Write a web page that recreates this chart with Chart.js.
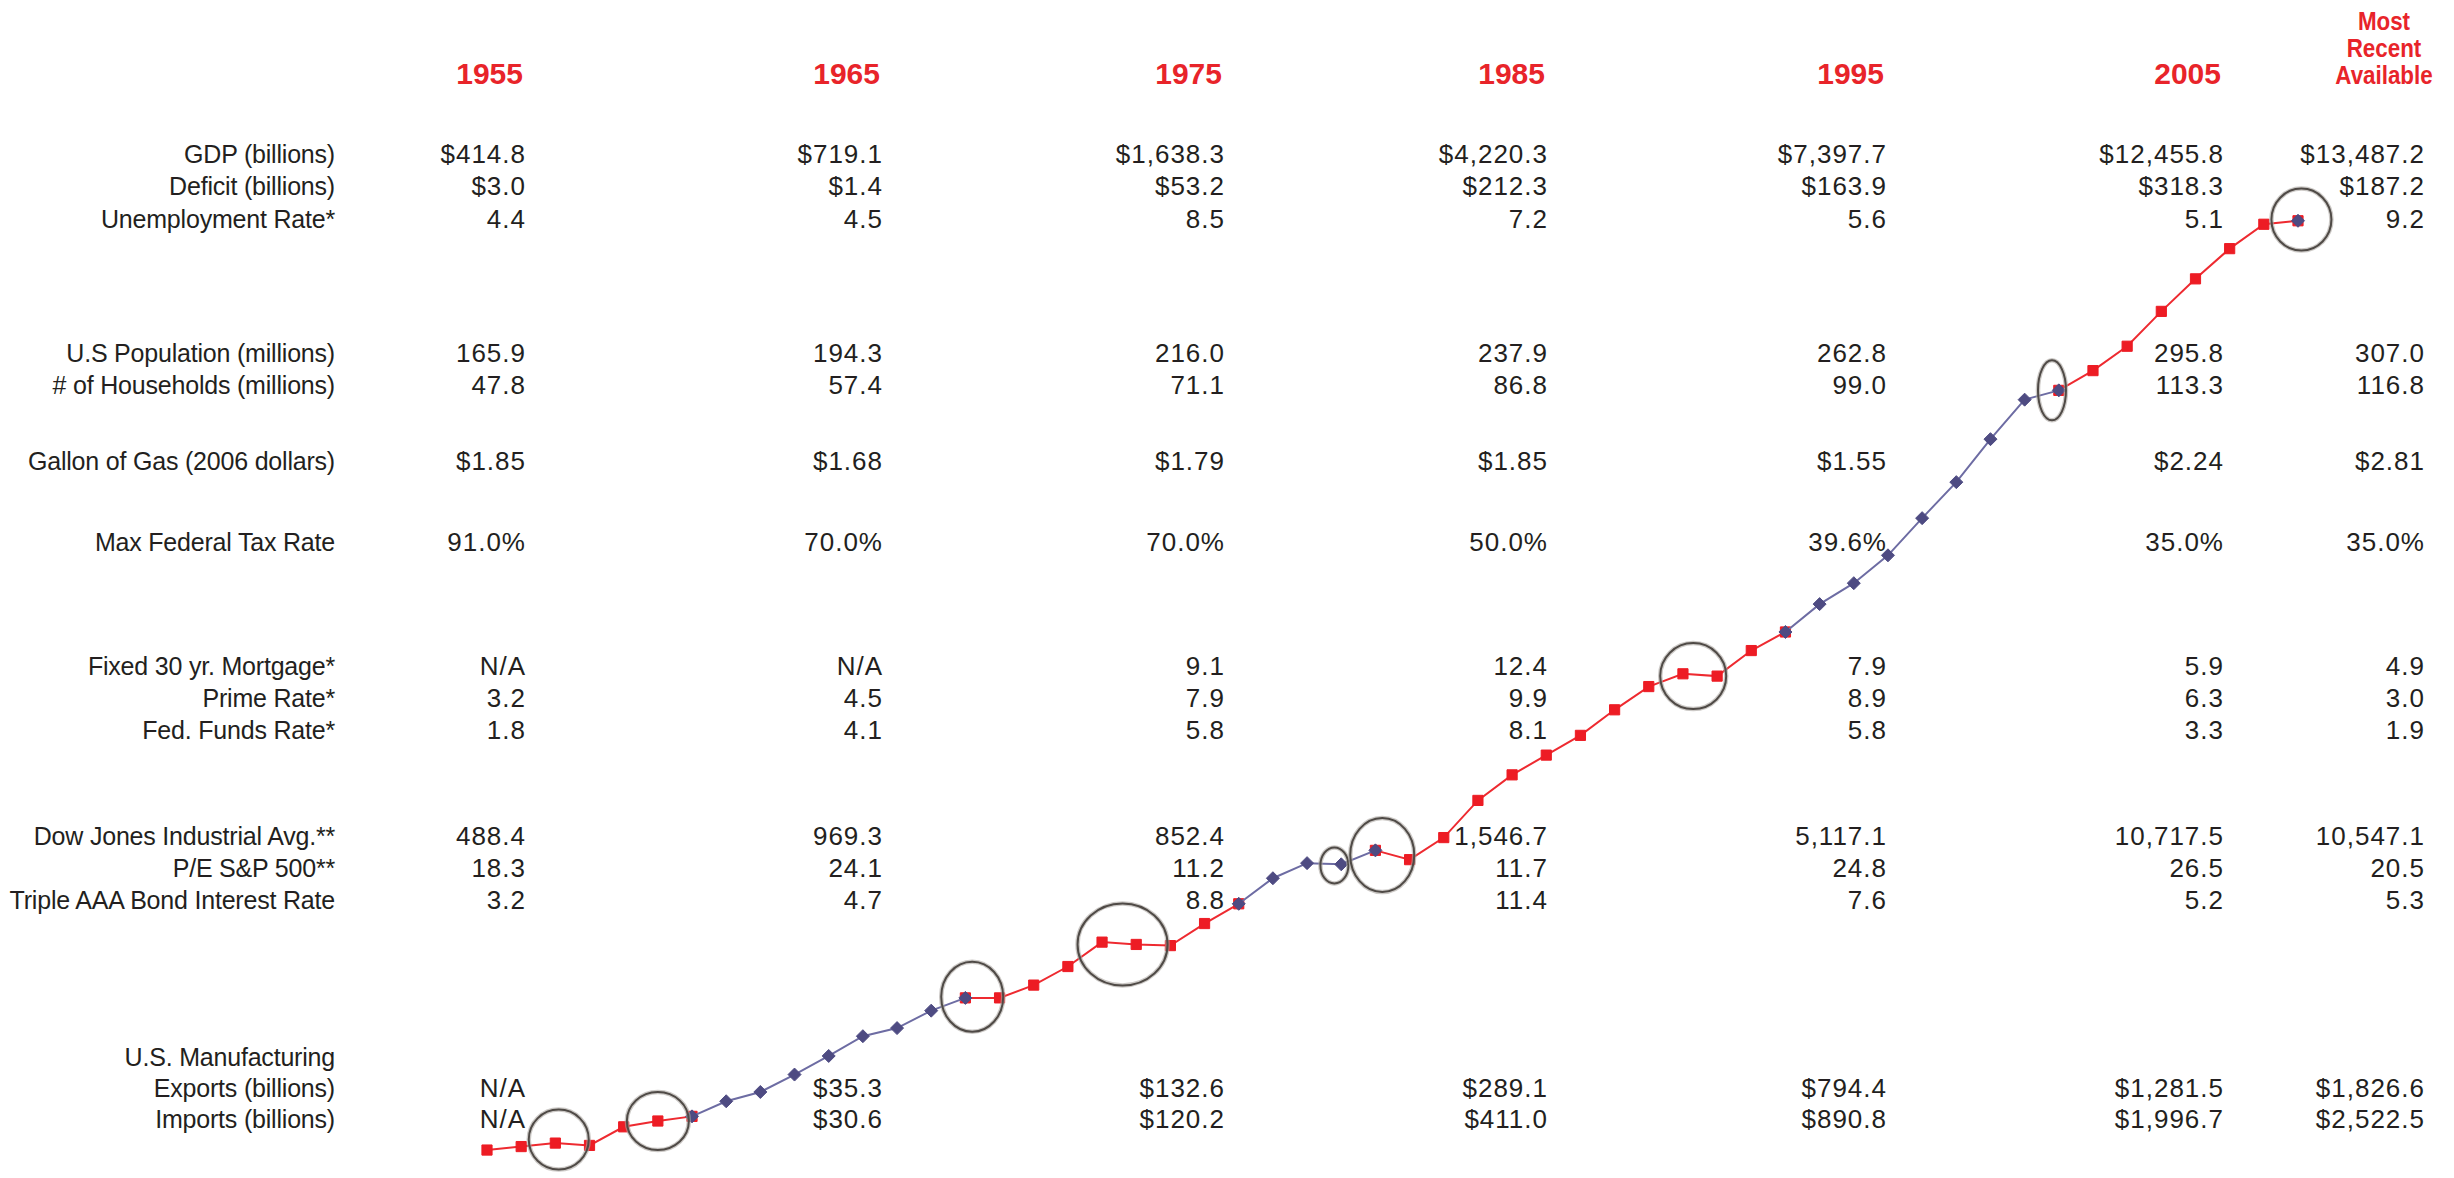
<!DOCTYPE html>
<html>
<head>
<meta charset="utf-8">
<script src="https://cdn.jsdelivr.net/npm/chart.js@4.4.0/dist/chart.umd.min.js"></script>
<style>
  html, body { margin: 0; padding: 0; background: #ffffff; }
  #wrap { position: relative; width: 2454px; height: 1178px; overflow: hidden; }
  #main-chart { position: absolute; left: 0; top: 0; z-index: 2; }
  #table { position: absolute; left: 0; top: 0; width: 2454px; height: 1178px; z-index: 1; }
  .cell {
    position: absolute; white-space: nowrap; text-align: right;
    font-family: "Liberation Sans", Arial, sans-serif; font-size: 26px;
    line-height: 30px; height: 30px; color: #231f20;
  }
  .label { font-size: 25px; letter-spacing: -0.2px; }
  .value { letter-spacing: 1px; }
  .year {
    position: absolute; white-space: nowrap; text-align: right;
    font-family: "Liberation Sans", Arial, sans-serif; font-weight: bold;
    font-size: 30px; line-height: 32px; color: #e8242a;
  }
  .recent {
    position: absolute; text-align: center;
    font-family: "Liberation Sans", Arial, sans-serif; font-weight: bold;
    font-size: 26px; line-height: 27px; color: #e8242a;
    transform: scaleX(0.86); transform-origin: 50% 0;
  }
</style>
</head>
<body>
<div id="wrap">
  <div id="table"></div>
  <canvas id="main-chart" width="2454" height="1178"></canvas>
</div>
<script>
// 年份 (一年一个点)
const years = [];
for (let y = 1955; y <= 2008; y++) years.push(String(y));

// 增长指数曲线
const growthIndex = [
  1.7, 2.0, 2.3, 2.1, 3.7, 4.2, 4.6, 5.9, 6.7, 8.2,
  9.8, 11.5, 12.2, 13.7, 14.8, 14.8, 15.9, 17.5, 19.6, 19.4,
  19.3, 21.2, 22.9, 25.1, 26.4, 26.3, 27.5, 26.7, 28.6, 31.8,
  34.0, 35.7, 37.4, 39.6, 41.6, 42.7, 42.5, 44.7, 46.3, 48.7,
  50.5, 52.9, 56.1, 59.2, 62.9, 66.3, 67.1, 68.8, 70.9, 73.9,
  76.7, 79.3, 81.4, 81.7
];

// 红色段 / 蓝色段 (起止下标)
const redTerms = [[0, 6], [14, 22], [26, 38], [46, 53]];
const blueTerms = [[6, 14], [22, 26], [38, 46], [53, 53]];

// 表头
const yearHeaders = ['1955', '1965', '1975', '1985', '1995', '2005'];
const recentHeader = ['Most', 'Recent', 'Available'];

// 行标题
const rowLabels = [
  'GDP (billions)', 'Deficit (billions)', 'Unemployment Rate*',
  'U.S Population (millions)', '# of Households (millions)',
  'Gallon of Gas (2006 dollars)',
  'Max Federal Tax Rate',
  'Fixed 30 yr. Mortgage*', 'Prime Rate*', 'Fed. Funds Rate*',
  'Dow Jones Industrial Avg.**', 'P/E S&P 500**', 'Triple AAA Bond Interest Rate',
  'U.S. Manufacturing', 'Exports (billions)', 'Imports (billions)'
];

// 各列数值 ('' = 无数值)
const col1955 = ['$414.8', '$3.0', '4.4', '165.9', '47.8', '$1.85', '91.0%', 'N/A', '3.2', '1.8', '488.4', '18.3', '3.2', '', 'N/A', 'N/A'];
const col1965 = ['$719.1', '$1.4', '4.5', '194.3', '57.4', '$1.68', '70.0%', 'N/A', '4.5', '4.1', '969.3', '24.1', '4.7', '', '$35.3', '$30.6'];
const col1975 = ['$1,638.3', '$53.2', '8.5', '216.0', '71.1', '$1.79', '70.0%', '9.1', '7.9', '5.8', '852.4', '11.2', '8.8', '', '$132.6', '$120.2'];
const col1985 = ['$4,220.3', '$212.3', '7.2', '237.9', '86.8', '$1.85', '50.0%', '12.4', '9.9', '8.1', '1,546.7', '11.7', '11.4', '', '$289.1', '$411.0'];
const col1995 = ['$7,397.7', '$163.9', '5.6', '262.8', '99.0', '$1.55', '39.6%', '7.9', '8.9', '5.8', '5,117.1', '24.8', '7.6', '', '$794.4', '$890.8'];
const col2005 = ['$12,455.8', '$318.3', '5.1', '295.8', '113.3', '$2.24', '35.0%', '5.9', '6.3', '3.3', '10,717.5', '26.5', '5.2', '', '$1,281.5', '$1,996.7'];
const colRecent = ['$13,487.2', '$187.2', '9.2', '307.0', '116.8', '$2.81', '35.0%', '4.9', '3.0', '1.9', '10,547.1', '20.5', '5.3', '', '$1,826.6', '$2,522.5'];

// 圈出的位置 (x 为年份下标, y 为指数值)
const circleMarks = [
  { at: 2.1, value: 2.6, rx: 30, ry: 30 },
  { at: 5.0, value: 4.2, rx: 31, ry: 29 },
  { at: 14.2, value: 14.9, rx: 31, ry: 35 },
  { at: 18.6, value: 19.4, rx: 45, ry: 41 },
  { at: 24.8, value: 26.2, rx: 14, ry: 18 },
  { at: 26.2, value: 27.1, rx: 32, ry: 37 },
  { at: 35.3, value: 42.5, rx: 33, ry: 33 },
  { at: 45.8, value: 67.1, rx: 14, ry: 30 },
  { at: 53.1, value: 81.8, rx: 30, ry: 31 }
];

// ---------- 表格文字 ----------
const table = document.getElementById('table');
const labelRight = 335;
const colRights = [525, 882, 1224, 1547, 1886, 2223, 2424];
const rowCenters = [154, 186, 219, 353, 385, 461, 542, 666, 698, 730, 836, 868, 900, 1057, 1088, 1119];
const columns = [col1955, col1965, col1975, col1985, col1995, col2005, colRecent];

function addCell(text, right, centerY, cls) {
  const d = document.createElement('div');
  d.className = cls;
  d.textContent = text;
  d.style.right = (2454 - right) + 'px';
  d.style.top = (centerY - 15) + 'px';
  table.appendChild(d);
}

rowLabels.forEach((label, i) => addCell(label, labelRight, rowCenters[i], 'cell label'));
columns.forEach((col, c) => {
  // letter-spacing 在最后一个字符后也会加上, 右边多挪 1px
  col.forEach((v, i) => { if (v) addCell(v, colRights[c] + 1, rowCenters[i], 'cell value'); });
});

yearHeaders.forEach((y, c) => {
  const d = document.createElement('div');
  d.className = 'year';
  d.textContent = y;
  d.style.right = (2454 - colRights[c] + 2) + 'px';
  d.style.top = '58px';
  table.appendChild(d);
});

const rec = document.createElement('div');
rec.className = 'recent';
rec.innerHTML = recentHeader.join('<br>');
rec.style.left = '2324px';
rec.style.width = '120px';
rec.style.top = '8px';
table.appendChild(rec);

// ---------- 图表 ----------
function pick(terms) {
  return growthIndex.map((v, i) => terms.some(t => i >= t[0] && i <= t[1]) ? v : null);
}

const circlePlugin = {
  id: 'circleMarks',
  afterDatasetsDraw(chart) {
    const { ctx, scales } = chart;
    ctx.save();
    circleMarks.forEach(c => {
      const x = scales.x.getPixelForValue(c.at);
      const y = scales.y.getPixelForValue(c.value);
      ctx.beginPath();
      ctx.ellipse(x, y, c.rx, c.ry, 0, 0, Math.PI * 2);
      ctx.strokeStyle = 'rgba(170, 165, 160, 0.6)';
      ctx.lineWidth = 4.5;
      ctx.stroke();
      ctx.strokeStyle = '#4f4a46';
      ctx.lineWidth = 2;
      ctx.stroke();
    });
    ctx.restore();
  }
};

const chart = new Chart(document.getElementById('main-chart').getContext('2d'), {
  type: 'line',
  data: {
    labels: years,
    datasets: [
      {
        label: 'blue',
        data: pick(blueTerms),
        borderColor: '#6d6ca3',
        borderWidth: 2,
        pointStyle: 'rectRot',
        pointRadius: 6.5,
        pointBackgroundColor: '#4e4b82',
        pointBorderColor: '#4e4b82',
        pointBorderWidth: 1,
        spanGaps: false,
        clip: false,
        order: 0
      },
      {
        label: 'red',
        data: pick(redTerms),
        borderColor: '#ee2a30',
        borderWidth: 2,
        pointStyle: 'rect',
        pointRadius: 7.2,
        pointBackgroundColor: '#ed1c24',
        pointBorderColor: '#ed1c24',
        pointBorderWidth: 1,
        spanGaps: false,
        clip: false,
        order: 1
      }
    ]
  },
  options: {
    responsive: false,
    animation: false,
    layout: { padding: { left: 487, right: 156, top: 0, bottom: 0 } },
    scales: {
      x: { display: false },
      y: { display: false, min: 0, max: 100 }
    },
    plugins: {
      legend: { display: false },
      tooltip: { enabled: false }
    },
    elements: { line: { tension: 0 } }
  },
  plugins: [circlePlugin]
});
</script>
</body>
</html>
